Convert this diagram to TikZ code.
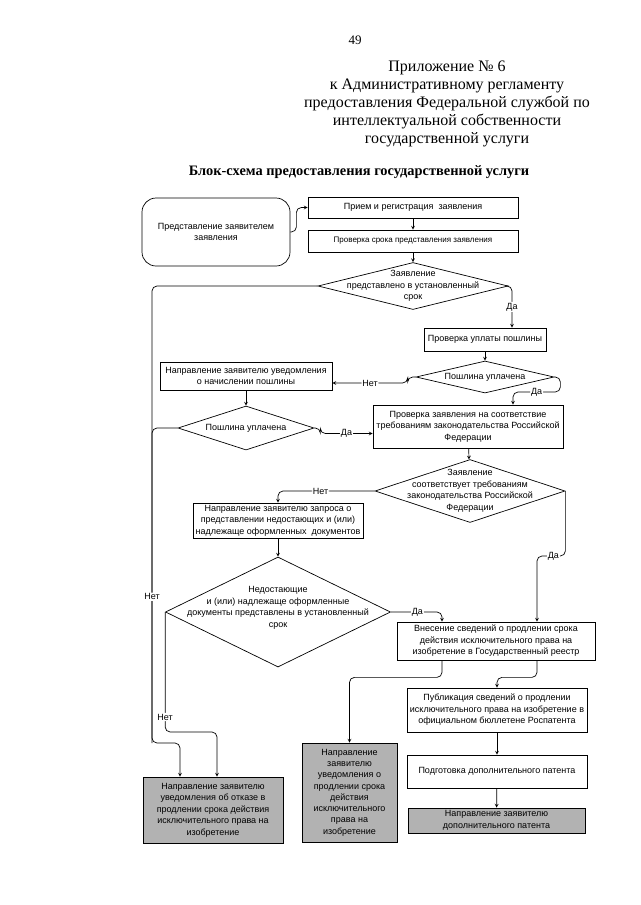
\documentclass[tikz,border=0pt]{standalone}
\usepackage{fontspec}
\setmainfont{Liberation Serif}
\newfontfamily\boxfont{Liberation Sans}
\usetikzlibrary{shapes.geometric}

\begin{document}
\begin{tikzpicture}[x=1pt,y=-1pt,>=stealth,line width=0.7pt,
    block/.style={rectangle,draw,align=center,inner sep=1pt,font=\boxfont\fontsize{9}{11.5}\selectfont},
    start block/.style={block,rounded corners=14pt},
    grey block/.style={block,fill=black!30,font=\boxfont\fontsize{9}{11.5}\selectfont},
    decision/.style={diamond,draw,inner sep=0pt},
    question/.style={align=center,font=\boxfont\fontsize{9}{11.5}\selectfont},
    answer/.style={fill=white,inner sep=1pt,font=\boxfont\fontsize{9}{10}\selectfont},
    line/.style={->,rounded corners=5pt}]
    \useasboundingbox (0,0) rectangle (640,905);

    % header
    \node[font=\fontsize{13}{15}\selectfont] (h1) at (355,40) {49};
    \node[align=center,font=\fontsize{16}{18}\selectfont] (h2) at (447,104) {Приложение № 6\\к Административному регламенту\\предоставления Федеральной службой по\\интеллектуальной собственности\\государственной услуги};
    \node[font=\bfseries\fontsize{14.4}{16}\selectfont] (h3) at (359,172) {Блок-схема предоставления государственной услуги};

    % blocks
    \node[start block,minimum width=148,minimum height=68] (1) at (216,232) {Представление заявителем\\заявления};
    \node[block,minimum width=210,minimum height=21] (2) at (413,207.5) {Прием и регистрация\ \ заявления};
    \node[block,minimum width=210,minimum height=22,font=\boxfont\fontsize{8}{10}\selectfont] (3) at (413,241) {Проверка срока представления заявления};
    \node[decision,minimum width=190,minimum height=47,label={[question]center:{Заявление\\представлено в установленный\\срок}}] (4) at (413,286) {};
    \node[block,minimum width=122,minimum height=23] (5) at (485,339.5) {Проверка уплаты пошлины};
    \node[decision,minimum width=138,minimum height=32,label={[question]center:{Пошлина уплачена}}] (6) at (485,377) {};
    \node[block,minimum width=172,minimum height=28] (7) at (246,376) {Направление заявителю уведомления\\о начислении пошлины};
    \node[block,minimum width=190,minimum height=43] (8) at (468,426.5) {Проверка заявления на соответствие\\требованиям законодательства Российской\\Федерации};
    \node[decision,minimum width=136,minimum height=44,label={[question]center:{Пошлина уплачена}}] (9) at (246,428) {};
    \node[decision,minimum width=190,minimum height=63,label={[question]center:{Заявление\\соответствует требованиям\\законодательства Российской\\Федерации}}] (10) at (470,491) {};
    \node[block,minimum width=170,minimum height=35] (11) at (278,520.5) {Направление заявителю запроса о\\представлении недостающих и (или)\\надлежаще оформленных\ \ документов};
    \node[decision,minimum width=225,minimum height=110,label={[question,yshift=4pt]center:{Недостающие\\и (или) надлежаще оформленные\\документы представлены в установленный\\срок}}] (12) at (278,612) {};
    \node[block,minimum width=198,minimum height=38] (13) at (496,641) {Внесение сведений о продлении срока\\действия исключительного права на\\изобретение в Государственный реестр};
    \node[block,minimum width=180,minimum height=44] (14) at (497,710) {Публикация сведений о продлении\\исключительного права на изобретение в\\официальном бюллетене Роспатента};
    \node[block,minimum width=180,minimum height=33] (15) at (497,771.5) {Подготовка дополнительного патента};
    \node[grey block,minimum width=177,minimum height=25] (16) at (496.5,820.5) {Направление заявителю\\дополнительного патента};
    \node[grey block,minimum width=140,minimum height=66,font=\boxfont\fontsize{9}{11.5}\selectfont] (17) at (213,810) {Направление заявителю\\уведомления об отказе в\\продлении срока действия\\исключительного права на\\изобретение};
    \node[grey block,minimum width=95,minimum height=99,font=\boxfont\fontsize{9}{11.3}\selectfont] (18) at (349.5,792.5) {Направление\\заявителю\\уведомления о\\продлении срока\\действия\\исключительного\\права на\\изобретение};

    \coordinate (c1) at (152,743);

    % connectors
    \draw[line] (1.east) -- ++(6,0) |- (2.west);
    \draw[->] (2) -- (3);
    \draw[->] (3) -- (4);
    \draw[line] (4.east) -| node[answer,pos=0.75] {Да} ([xshift=27pt]5.north);
    \draw[->] (5) -- (6);
    \draw[line] (6.west) -- ++(-8,0) |- node[answer,pos=0.75] {Нет} ([yshift=-7pt]7.east);
    \draw[line] (6.east) -| ++(6,15) -| node[answer,pos=0.25] {Да} ([xshift=45pt]8.north);
    \draw[->] (7) -- (9);
    \draw[line] (9.east) -- ++(6,0) |- node[answer,pos=0.75] {Да} ([yshift=-7pt]8.west);
    \draw[rounded corners=5pt] (9.west) -| (c1);
    \draw[line] (4.west) -| node[answer,pos=0.84] {Нет} (c1) -| ([xshift=-33pt]17.north);
    \draw[->] (8) -- (10);
    \draw[line] (10.west) -| node[answer,pos=0.28] {Нет} (11.north);
    \draw[->] (11) -- (12);
    \draw[line] (10.east) -- ++(0,65) -| node[answer,pos=0.21] {Да} ([xshift=41pt]13.north);
    \draw[line] (12.east) -| node[answer,pos=0.26] {Да} ([xshift=-54pt]13.north);
    \draw[line] (12.west) -- node[answer,pos=0.875] {Нет} ++(0,120) -| ([xshift=4pt]17.north);
    \draw[line] ([xshift=-54pt]13.south) -- ++(0,17) -| (18.north);
    \draw[line] ([xshift=41pt]13.south) -- ++(0,17) -| (14.north);
    \draw[->] (14) -- (15);
    \draw[->] (15) -- (16);
\end{tikzpicture}
\end{document}
